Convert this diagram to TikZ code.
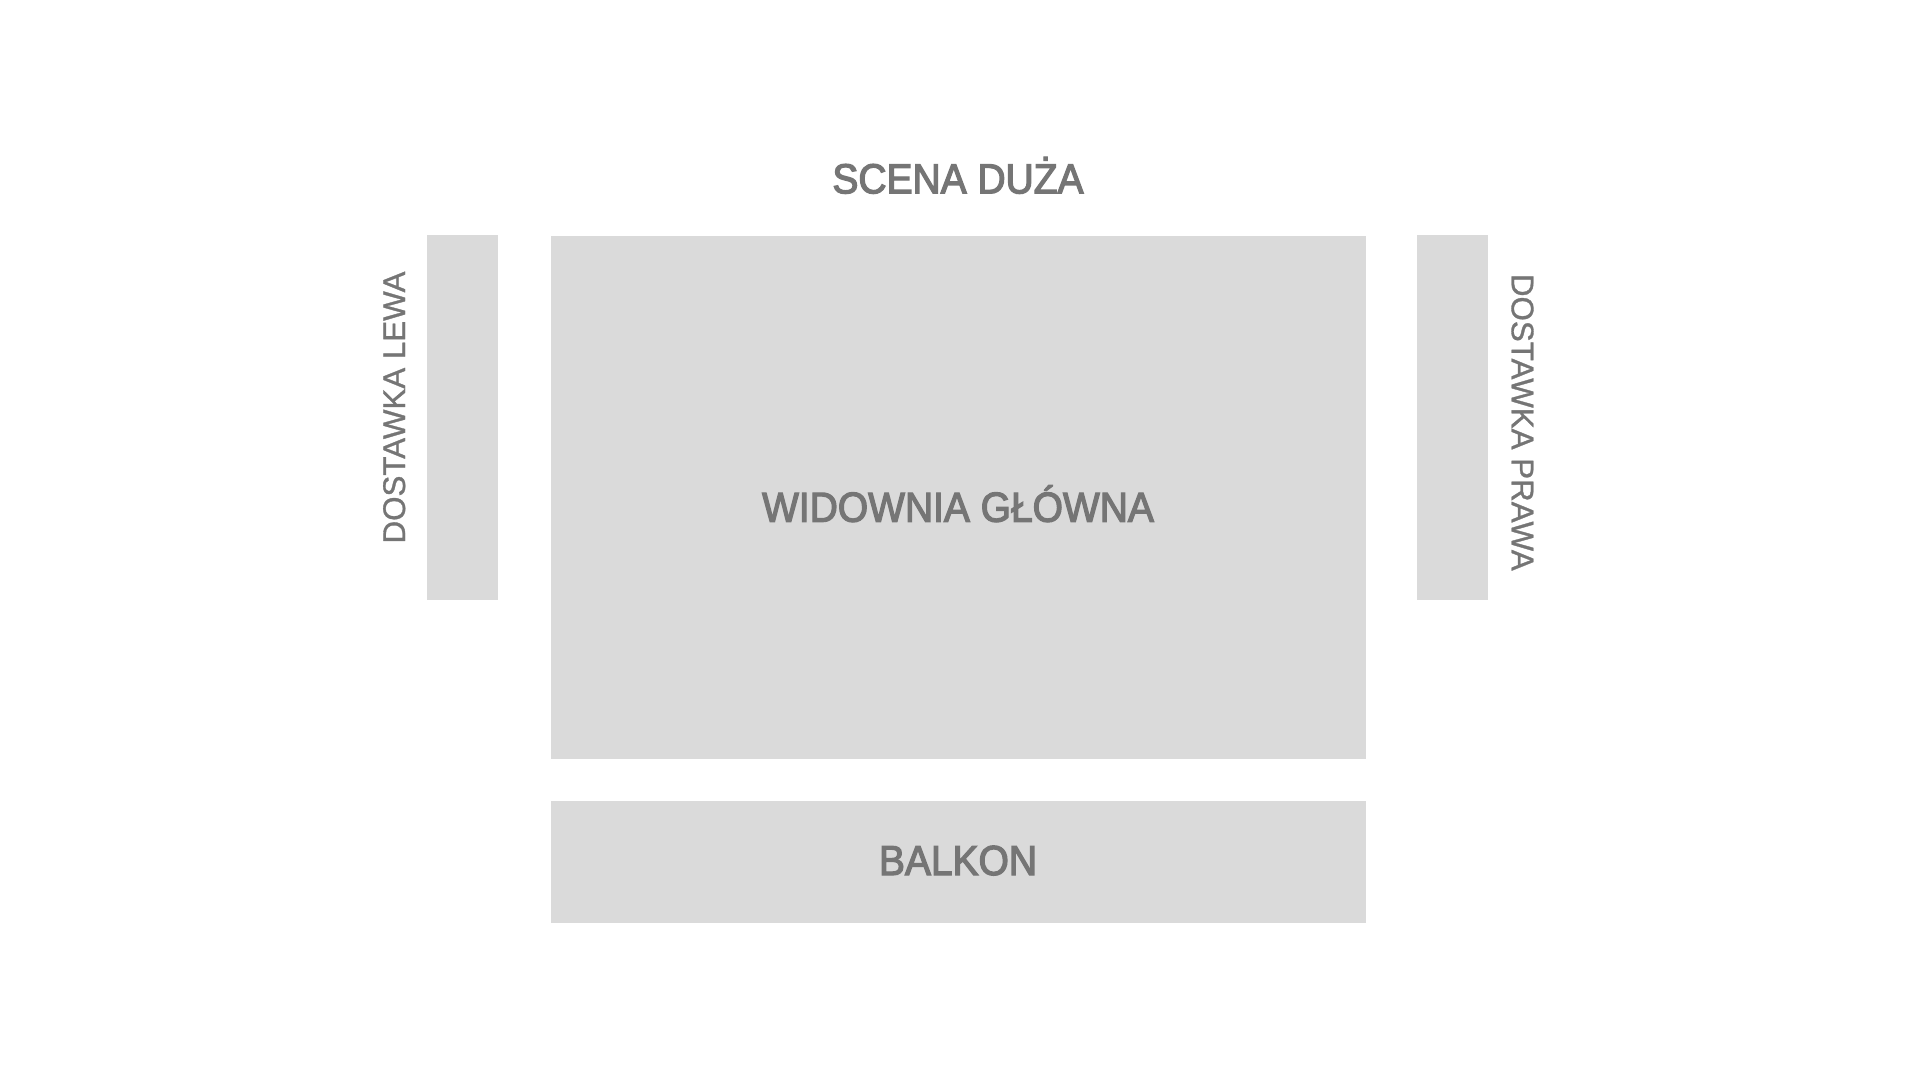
\documentclass[tikz,border=0pt]{standalone}
\usepackage{fontspec}
\setmainfont{Liberation Sans}
\newfontfamily\mainlab{Liberation Sans}[FakeStretch=0.93,FakeBold=3]
\newfontfamily\sidelab{Liberation Sans}[FakeBold=1]
\definecolor{zonefill}{HTML}{DADADA}
\definecolor{labgray}{HTML}{757575}
\tikzset{
  zone/.style={fill=zonefill, draw=none, inner sep=0pt, outer sep=0pt, rectangle},
  biglab/.style={text=labgray, inner sep=0pt, anchor=base, font=\mainlab\fontsize{41.9}{44}\selectfont},
  sidetext/.style={text=labgray, inner sep=0pt, anchor=base, font=\sidelab\fontsize{31.3}{33}\selectfont},
}
\begin{document}
\begin{tikzpicture}[x=1pt,y=-1pt]
\useasboundingbox (0,0) rectangle (1920,1080);
\fill[white] (0,0) rectangle (1920,1080);
% zones
\node[zone, minimum width=815pt, minimum height=523pt] (main) at (958.5,497.5) {};
\node[zone, minimum width=815pt, minimum height=122pt] (balkon) at (958.5,862) {};
\node[zone, minimum width=71pt, minimum height=365pt] (left) at (462.5,417.5) {};
\node[zone, minimum width=71pt, minimum height=365pt] (right) at (1452.5,417.5) {};
% labels
\node[biglab] (scena) at (958,193.3) {SCENA DUŻA};
\node[biglab] (mainlab) at (958,521.7) {WIDOWNIA GŁÓWNA};
\node[biglab] (balkonlab) at (958,875) {BALKON};
\node[sidetext, rotate=90] (leftlab) at (405,407.5) {DOSTAWKA LEWA};
\node[sidetext, rotate=-90] (rightlab) at (1511.7,422.3) {DOSTAWKA PRAWA};
\end{tikzpicture}
\end{document}
